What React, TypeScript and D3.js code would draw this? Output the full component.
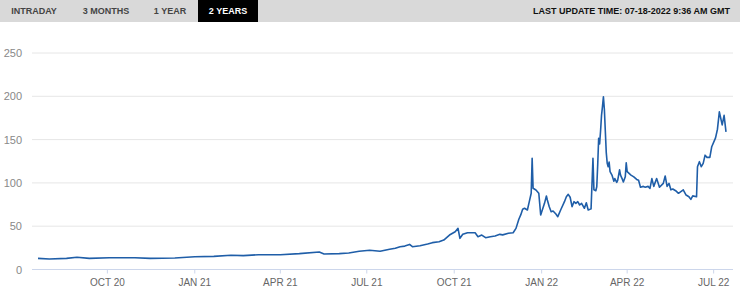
import React from "react";
import * as d3 from "d3";

const dates: string[] = [
  "2020-07-20","2020-08-01","2020-08-19","2020-08-30","2020-09-12","2020-10-03","2020-10-30","2020-11-15","2020-12-11",
  "2021-01-01","2021-01-21","2021-02-08","2021-02-21","2021-03-09","2021-04-01","2021-04-21","2021-05-12","2021-05-17",
  "2021-06-02","2021-06-12","2021-06-23","2021-07-04","2021-07-15","2021-07-25","2021-07-31","2021-08-05","2021-08-10",
  "2021-08-15","2021-08-18","2021-08-26","2021-09-03","2021-09-08","2021-09-15","2021-09-20","2021-09-26","2021-10-02",
  "2021-10-05","2021-10-07","2021-10-10","2021-10-15","2021-10-23","2021-10-26","2021-10-30","2021-11-03","2021-11-08",
  "2021-11-13","2021-11-18","2021-11-21","2021-11-27","2021-12-02","2021-12-05","2021-12-08","2021-12-10","2021-12-12",
  "2021-12-14","2021-12-17","2021-12-19","2021-12-21","2021-12-22","2021-12-23","2021-12-26","2021-12-29","2021-12-31",
  "2022-01-04","2022-01-06","2022-01-07","2022-01-09","2022-01-11","2022-01-13","2022-01-16","2022-01-18","2022-01-21",
  "2022-01-25","2022-01-27","2022-01-29","2022-01-31","2022-02-02","2022-02-04","2022-02-06","2022-02-08","2022-02-10",
  "2022-02-12","2022-02-15","2022-02-17","2022-02-19","2022-02-22","2022-02-24","2022-02-25","2022-02-27","2022-02-28",
  "2022-03-01","2022-03-02","2022-03-03","2022-03-04","2022-03-05","2022-03-06","2022-03-07","2022-03-08","2022-03-09",
  "2022-03-10","2022-03-11","2022-03-12","2022-03-13","2022-03-14","2022-03-16","2022-03-18","2022-03-19","2022-03-21",
  "2022-03-22","2022-03-24","2022-03-25","2022-03-27","2022-03-28","2022-03-30","2022-03-31","2022-04-01","2022-04-03",
  "2022-04-05","2022-04-08","2022-04-11","2022-04-13","2022-04-15","2022-04-18","2022-04-20","2022-04-23","2022-04-25",
  "2022-04-27","2022-04-29","2022-05-02","2022-05-05","2022-05-09","2022-05-11","2022-05-13","2022-05-15","2022-05-17",
  "2022-05-19","2022-05-22","2022-05-25","2022-05-30","2022-06-02","2022-06-05","2022-06-07","2022-06-09","2022-06-13",
  "2022-06-14","2022-06-16","2022-06-18","2022-06-20","2022-06-22","2022-06-24","2022-06-27","2022-06-29","2022-07-03",
  "2022-07-05","2022-07-07","2022-07-10","2022-07-12","2022-07-14"
];

const prices: number[] = [
  12.9,12.1,12.9,14.1,12.9,13.6,13.6,12.9,13.3,
  14.8,15.2,16.4,16.0,17.1,17.1,18.3,20.2,17.9,
  18.3,19.0,21.0,22.2,21.0,23.3,24.5,26.3,27.0,
  29.0,26.3,27.5,29.4,31.0,32.0,34.0,39.8,43.6,
  47.5,36.0,40.6,42.5,42.5,37.9,39.8,36.7,37.9,
  38.7,40.6,40.0,41.8,42.5,47.5,58.0,63.0,69.5,
  70.7,68.7,78.3,88.0,128.4,93.8,91.8,88.0,63.0,
  76.4,84.9,80.3,72.5,66.7,67.5,64.0,61.0,68.7,
  78.3,84.0,86.8,83.4,72.5,78.3,76.4,78.3,74.5,
  76.4,70.7,77.0,68.7,70.0,128.4,92.0,91.0,95.6,
  121.0,151.5,145.0,160.0,178.0,188.0,199.5,185.0,160.0,
  135.0,122.6,118.7,124.0,113.0,109.0,102.0,105.0,100.7,
  103.0,115.0,109.0,104.0,101.0,107.0,123.3,113.0,111.0,
  109.0,107.0,104.0,103.0,95.0,96.0,95.0,96.0,93.7,
  105.0,96.0,105.0,95.0,99.5,108.0,96.0,99.5,92.0,
  93.0,91.0,88.0,92.0,86.0,84.0,81.0,85.0,84.0,
  118.7,124.5,118.7,122.6,132.0,129.5,129.5,141.8,152.0,
  162.0,182.0,167.0,178.0,159.0
];

const yTicks: number[] = [0, 50, 100, 150, 200, 250];
const xTickDates: string[] = ["2020-10-01","2021-01-01","2021-04-01","2021-07-01","2021-10-01","2022-01-01","2022-04-01","2022-07-01"];
const rangeButtons: string[] = ["INTRADAY", "3 MONTHS", "1 YEAR", "2 YEARS"];
const selectedButton = "2 YEARS";
const updateText = "LAST UPDATE TIME: 07-18-2022 9:36 AM GMT";

const W = 740, H = 299;
const FONT = "'Liberation Sans', Arial, Helvetica, sans-serif";

export default function App() {
  const parse = d3.timeParse("%Y-%m-%d");
  const data = dates.map((d, i) => ({ date: parse(d) as Date, value: prices[i] }));
  const x = d3.scaleTime()
    .domain(d3.extent(data, (d) => d.date) as [Date, Date])
    .range([38, 726]);
  const y = d3.scaleLinear().domain([0, 250]).range([269.5, 53]);
  const line = d3.line<{ date: Date; value: number }>()
    .x((d) => x(d.date))
    .y((d) => y(d.value))
    .curve(d3.curveLinear);
  const fmt = d3.timeFormat("%b %y");
  const btnCenters = [34, 106, 170, 228];

  return (
    <svg width={W} height={H} style={{ position: "absolute", left: 0, top: 0, background: "#fff" }} fontFamily={FONT}>
      <rect x={0} y={0} width={W} height={22} fill="#d9d9d9" />
      <rect x={198} y={0} width={60} height={22} fill="#000" />
      {rangeButtons.map((b, i) => (
        <text key={b} x={btnCenters[i]} y={14} textAnchor="middle" fontSize={9} fontWeight="bold"
          fill={b === selectedButton ? "#fff" : "#444"}>{b}</text>
      ))}
      <text x={730} y={14} textAnchor="end" fontSize={9} fontWeight="bold" fill="#111">{updateText}</text>

      {yTicks.map((t) => (
        <g key={t}>
          {t !== 0 && <line x1={32} x2={733} y1={y(t)} y2={y(t)} stroke="#e6e6e6" strokeWidth={1} />}
          <text x={22} y={y(t) + 4} textAnchor="end" fontSize={11} fill="#888">{t}</text>
        </g>
      ))}
      <line x1={32} x2={733} y1={y(0)} y2={y(0)} stroke="#ccd6eb" strokeWidth={1} />
      {xTickDates.map((s) => {
        const d = parse(s) as Date;
        const px = x(d);
        return (
          <g key={s}>
            <line x1={px} x2={px} y1={y(0)} y2={y(0) + 4} stroke="#ccd6eb" strokeWidth={1} />
            <text x={px} y={285.5} textAnchor="middle" fontSize={10} fill="#666">{fmt(d).toUpperCase()}</text>
          </g>
        );
      })}
      <path d={line(data) || ""} fill="none" stroke="#1f5ea8" strokeWidth={1.6} strokeLinejoin="round" />
    </svg>
  );
}
